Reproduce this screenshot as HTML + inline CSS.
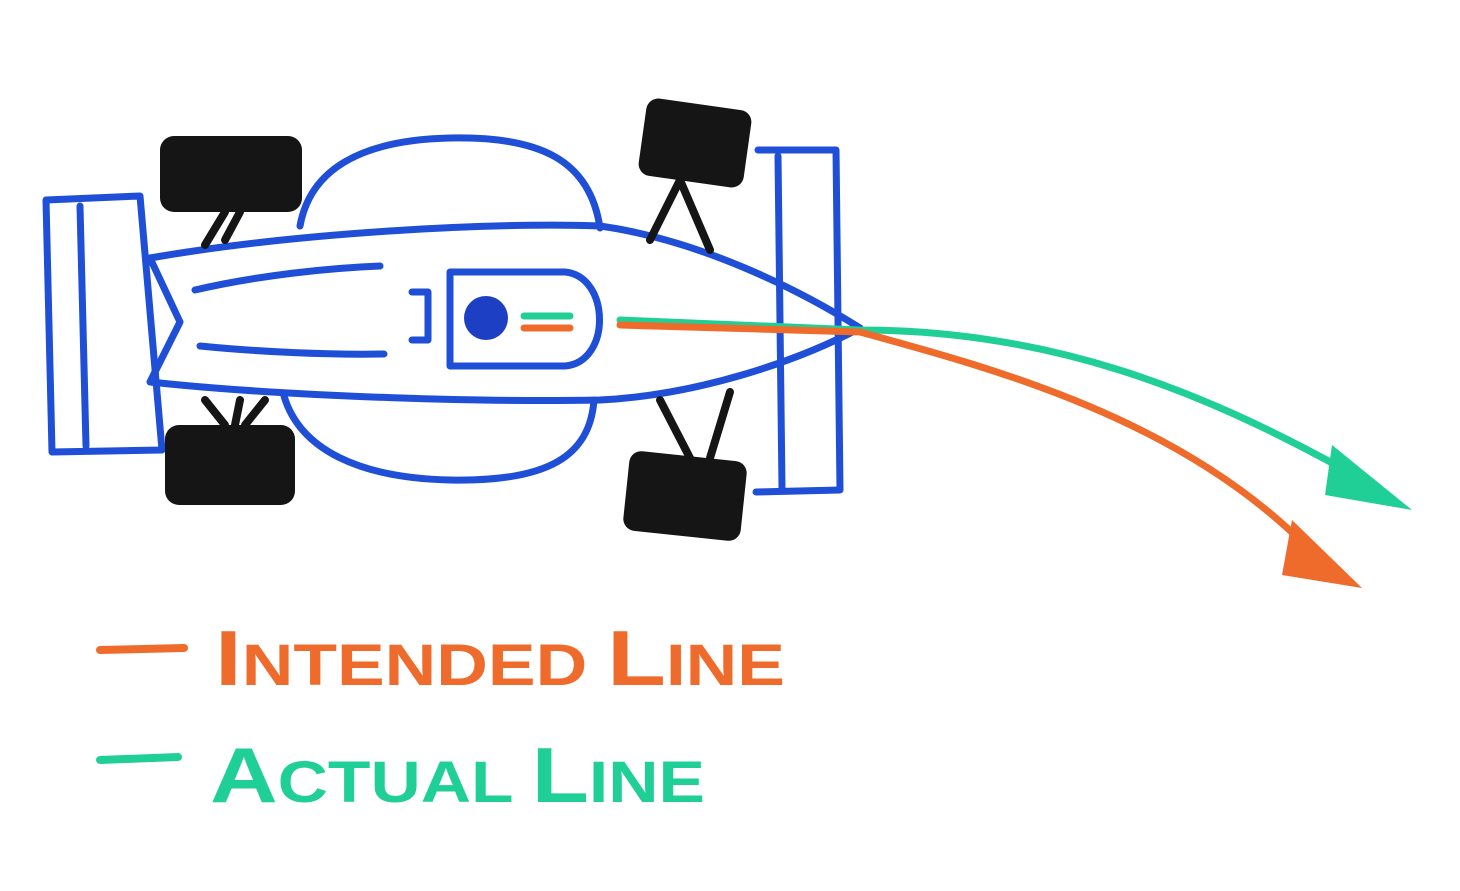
<!DOCTYPE html>
<html><head><meta charset="utf-8"><style>
html,body{margin:0;padding:0;background:#fff;}
svg{display:block}
</style></head><body>
<svg width="1460" height="891" viewBox="0 0 1460 891" xmlns="http://www.w3.org/2000/svg">
<rect width="1460" height="891" fill="#fff"/>
<g fill="none" stroke="#1f4fd6" stroke-width="7" stroke-linecap="round" stroke-linejoin="round">
  <path d="M46 200 L140 196 L162 450 L52 452 Z"/>
  <path d="M80 206 L86 446"/>
  <path d="M300 226 C310 170 360 140 450 138 C540 136 590 160 600 228"/>
  <path d="M284 396 C300 450 360 478 450 480 C550 482 590 455 594 400"/>
  <path d="M150 258 C300 232 500 222 600 226 C700 240 800 290 860 328 C800 360 700 395 600 400 C500 402 300 398 150 382 L180 322 Z"/>
  <path d="M195 290 C260 275 330 268 380 266"/>
  <path d="M200 346 C260 352 330 355 384 354"/>
  <path d="M450 272 L565 272 C610 276 612 362 565 366 L450 366 Z"/>
  <path d="M412 292 L428 292 L428 340 L412 340"/>
  <path d="M758 150 L836 150 L840 490 L756 492"/>
  <path d="M778 156 L782 488"/>
</g>
<circle cx="486" cy="318" r="22" fill="#1d3fc4"/>
<g fill="#151515">
  <rect x="160" y="136" width="142" height="76" rx="14"/>
  <rect x="165" y="425" width="130" height="80" rx="14"/>
  <rect x="642" y="104" width="106" height="78" rx="12" transform="rotate(8 695 143)"/>
  <rect x="626" y="456" width="118" height="80" rx="12" transform="rotate(6 685 496)"/>
</g>
<g stroke="#151515" stroke-width="8" stroke-linecap="round" fill="none">
  <path d="M205 245 L225 212 M225 240 L240 212"/>
  <path d="M205 400 L225 425 M240 400 L235 425 M265 400 L245 425"/>
  <path d="M650 240 L680 180 L710 250"/>
  <path d="M660 400 L690 458 M730 392 L710 458"/>
</g>
<g fill="none" stroke-width="7" stroke-linecap="round">
  <path d="M524 316 L570 316 M620 320 L860 330 C1050 330 1200 390 1345 470" stroke="#20cf95"/>
  <path d="M524 328 L570 328 M620 325 L860 332 C1000 370 1180 420 1305 545" stroke="#ef6b2c"/>
</g>
<polygon points="1332,445 1412,510 1325,495" fill="#20cf95"/>
<polygon points="1292,520 1362,588 1282,575" fill="#ef6b2c"/>
<path d="M100 650 L184 648" stroke="#ef6b2c" stroke-width="8" stroke-linecap="round"/>
<path d="M100 760 L178 757" stroke="#20cf95" stroke-width="8" stroke-linecap="round"/>
<text x="215" y="685" font-family="Liberation Sans, sans-serif" font-weight="bold" fill="#ef6b2c" font-size="58" textLength="570" lengthAdjust="spacingAndGlyphs"><tspan font-size="78">I</tspan>NTENDED <tspan font-size="78">L</tspan>INE</text>
<text x="210" y="802" font-family="Liberation Sans, sans-serif" font-weight="bold" fill="#20cf95" font-size="58" textLength="495" lengthAdjust="spacingAndGlyphs"><tspan font-size="78">A</tspan>CTUAL <tspan font-size="78">L</tspan>INE</text>
</svg>
</body></html>
